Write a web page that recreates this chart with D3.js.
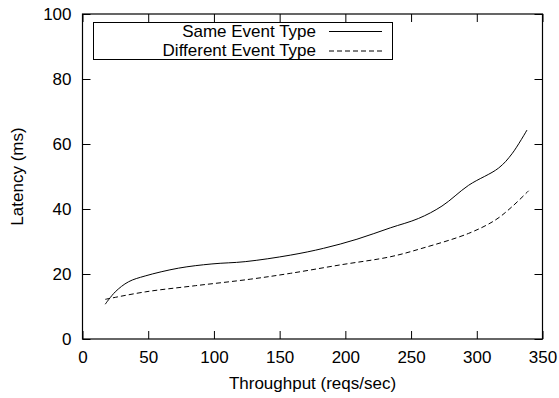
<!DOCTYPE html>
<html>
<head>
<meta charset="utf-8">
<script src="https://cdn.jsdelivr.net/npm/d3@7"></script>
<style>
  body { margin: 0; background: #fff; }
  svg { display: block; font-family: "Liberation Sans", Arial, sans-serif; }
</style>
</head>
<body>
<figure id="latency" style="margin:0"></figure>
<script>
// throughput (reqs/sec) vs latency (ms)
const sameX = [17.3, 24.9, 35.0, 47.7, 73.1, 98.5, 123.8, 158.1, 183.4, 208.8, 234.2, 255.7, 273.5, 293.8, 316.6, 326.8, 338.2];
const sameY = [10.7, 14.5, 17.6, 19.4, 21.8, 23.1, 23.8, 25.8, 27.9, 30.7, 34.2, 37.1, 40.9, 47.3, 52.6, 57.0, 64.3];
const diffX = [17.3, 47.7, 85.8, 127.6, 158.1, 196.1, 234.2, 258.3, 293.8, 314.1, 326.8, 339.4];
const diffY = [12.2, 14.5, 16.4, 18.4, 20.2, 22.8, 25.3, 27.9, 32.5, 36.6, 40.7, 45.6];
const seriesNames = ["Same Event Type", "Different Event Type"];
const xTicks = [0, 50, 100, 150, 200, 250, 300, 350];
const yTicks = [0, 20, 40, 60, 80, 100];

const width = 559, height = 398;
const margin = {top: 14, right: 16.5, bottom: 59, left: 82.5};
const fontSize = 17;

const x = d3.scaleLinear().domain([0, 350]).range([margin.left, width - margin.right]);
const y = d3.scaleLinear().domain([0, 100]).range([height - margin.bottom, margin.top]);

const svg = d3.select("figure#latency")
  .append("svg")
    .attr("width", width)
    .attr("height", height);

// mirrored inward ticks on all four sides
svg.append("g")
    .attr("transform", `translate(0,${y(0)})`)
    .call(d3.axisBottom(x).tickValues(xTicks).tickSize(-8).tickPadding(12).tickSizeOuter(0))
    .call(g => g.select(".domain").remove());
svg.append("g")
    .attr("transform", `translate(0,${y(100)})`)
    .call(d3.axisTop(x).tickValues(xTicks).tickSize(-8).tickFormat("").tickSizeOuter(0))
    .call(g => g.select(".domain").remove());
svg.append("g")
    .attr("transform", `translate(${x(0)},0)`)
    .call(d3.axisLeft(y).tickValues(yTicks).tickSize(-8).tickPadding(11).tickSizeOuter(0))
    .call(g => g.select(".domain").remove());
svg.append("g")
    .attr("transform", `translate(${x(350)},0)`)
    .call(d3.axisRight(y).tickValues(yTicks).tickSize(-8).tickFormat("").tickSizeOuter(0))
    .call(g => g.select(".domain").remove());

svg.selectAll(".tick text")
    .attr("font-size", fontSize)
    .attr("font-family", "Liberation Sans, Arial, sans-serif")
    .attr("fill", "#000");
svg.selectAll(".tick line").attr("stroke", "#000");

svg.append("rect")
    .attr("x", x(0))
    .attr("y", y(100))
    .attr("width", x(350) - x(0))
    .attr("height", y(0) - y(100))
    .attr("fill", "none")
    .attr("stroke", "#000")
    .attr("stroke-width", 1.2);

// axis titles
svg.append("text")
    .attr("x", (x(0) + x(350)) / 2)
    .attr("y", 388.5)
    .attr("text-anchor", "middle")
    .attr("font-size", fontSize)
    .text("Throughput (reqs/sec)");
svg.append("text")
    .attr("transform", `translate(22.5,${(y(0) + y(100)) / 2})rotate(-90)`)
    .attr("text-anchor", "middle")
    .attr("font-size", fontSize)
    .text("Latency (ms)");

const line = d3.line()
    .x(d => x(d[0]))
    .y(d => y(d[1]))
    .curve(d3.curveCatmullRom.alpha(0.5));

const same = sameX.map((v, i) => [v, sameY[i]]);
const diff = diffX.map((v, i) => [v, diffY[i]]);

svg.append("path")
    .datum(same)
    .attr("fill", "none")
    .attr("stroke", "#000")
    .attr("stroke-width", 1)
    .attr("d", line);
svg.append("path")
    .datum(diff)
    .attr("fill", "none")
    .attr("stroke", "#000")
    .attr("stroke-width", 1)
    .attr("stroke-dasharray", "5,3")
    .attr("d", line);

// legend
const legend = svg.append("g");
legend.append("rect")
    .attr("x", 93.5)
    .attr("y", 22.5)
    .attr("width", 299)
    .attr("height", 37)
    .attr("fill", "#fff")
    .attr("stroke", "#000")
    .attr("stroke-width", 1);
const rows = legend.selectAll("g.row")
  .data(seriesNames)
  .join("g")
    .attr("class", "row")
    .attr("transform", (d, i) => `translate(0,${31.5 + i * 19.5})`);
rows.append("text")
    .attr("x", 316)
    .attr("dy", "0.32em")
    .attr("text-anchor", "end")
    .attr("font-size", fontSize)
    .text(d => d);
rows.append("line")
    .attr("x1", 329)
    .attr("x2", 382)
    .attr("stroke", "#000")
    .attr("stroke-width", 1)
    .attr("stroke-dasharray", (d, i) => i ? "5,3" : null);
</script>
</body>
</html>
